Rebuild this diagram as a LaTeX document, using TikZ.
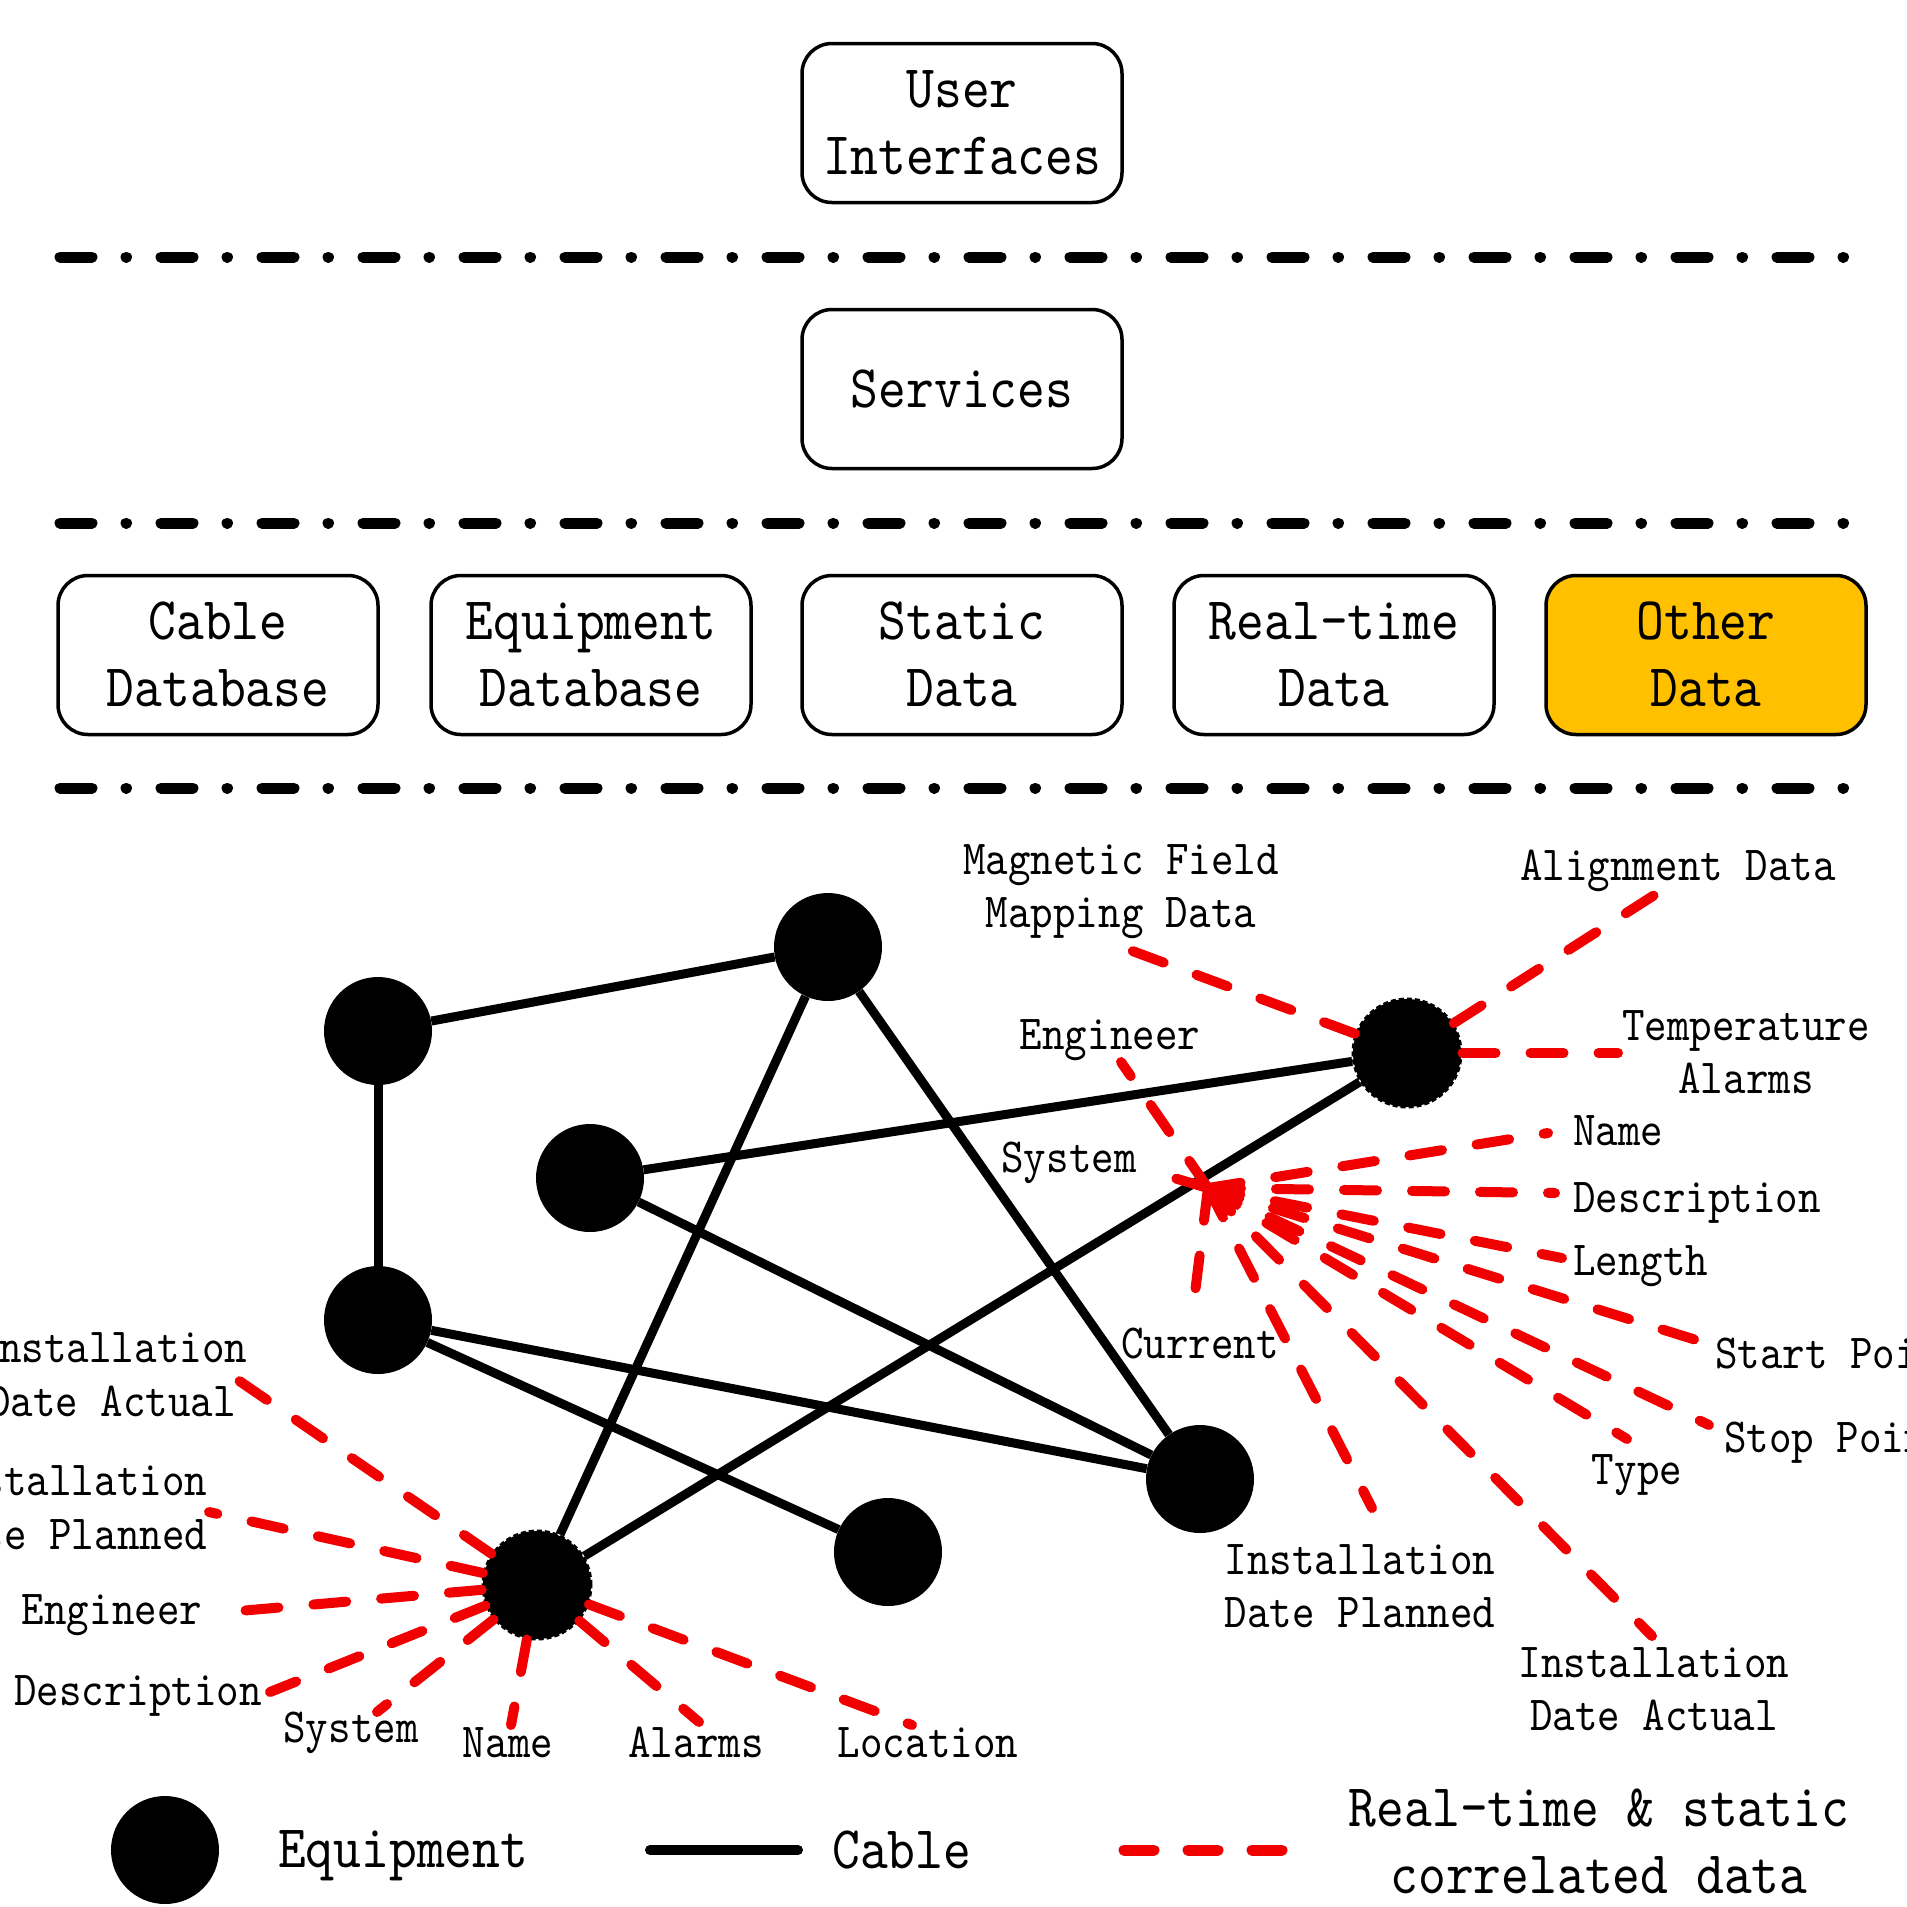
\documentclass[tikz,border=0pt]{standalone}
\usepackage{fontspec}
\newfontfamily\labelfont{lmmono10-regular.otf}[FakeStretch=0.875]
\newcommand\lblsmall{\labelfont\fontsize{49}{53.5}\selectfont}
\newcommand\lblbig{\labelfont\fontsize{60.5}{67}\selectfont}
% strut that centres each line on its capital letters
\newcommand\capstrut{\rule[-0.2em]{0pt}{1.011em}}
\definecolor{otherfill}{RGB}{255,192,0}
\definecolor{datared}{RGB}{240,0,0}

\begin{document}
\begin{tikzpicture}[x=1pt,y=-1pt,
  box/.style={draw, line width=3.5, rounded corners=30, minimum width=320,
    minimum height=159, inner sep=0, align=center, font=\lblbig},
  layersep/.style={line width=11, line cap=round,
    dash pattern=on 32 off 34 on 0.5 off 34.5},
  equip/.style={circle, fill=black, minimum size=108, inner sep=0},
  roughequip/.style={equip, draw=black, line width=3, dash pattern=on 5 off 3},
  cable/.style={line width=9},
  corr/.style={draw=datared, line width=10, line cap=round, dash pattern=on 33 off 35},
  lbl/.style={inner sep=0, align=center, font=\lblsmall},
  biglbl/.style={inner sep=0, align=center, font=\lblbig}]

\useasboundingbox (0,0) rectangle (1907,1907);
\clip (0,0) rectangle (1907,1907);

% ---------- layers ----------
\node[box] (ui) at (962,123) {\capstrut User\\\capstrut Interfaces};
\draw[layersep] (60,257) -- (1850,257);
\node[box] (srv) at (962,389) {\capstrut Services};
\draw[layersep] (60,523) -- (1850,523);
\node[box] (cdb) at (218,655) {\capstrut Cable\\\capstrut Database};
\node[box] (edb) at (591,655) {\capstrut Equipment\\\capstrut Database};
\node[box] (sdb) at (962,655) {\capstrut Static\\\capstrut Data};
\node[box] (rdb) at (1334,655) {\capstrut Real-time\\\capstrut Data};
\node[box, fill=otherfill] (odb) at (1706,655) {\capstrut Other\\\capstrut Data};
\draw[layersep] (60,788) -- (1850,788);

% ---------- equipment ----------
\node[equip] (A) at (378,1031) {};
\node[equip] (B) at (828,947) {};
\node[equip] (C) at (590,1178) {};
\node[equip] (D) at (378,1320) {};
\node[roughequip] (E) at (1407,1053) {};
\node[equip] (F) at (1200,1479) {};
\node[roughequip] (G) at (537,1585) {};
\node[equip] (H) at (888,1552) {};

% ---------- cables ----------
\draw[cable] (A) -- (B);
\draw[cable] (A) -- (D);
\draw[cable] (B) -- (G);
\draw[cable] (B) -- (F);
\draw[cable] (C) -- (E);
\draw[cable] (C) -- (F);
\draw[cable] (D) -- (F);
\draw[cable] (D) -- (H);
\draw[cable] (G) -- (E);

% ---------- data of equipment E ----------
\node[lbl] (eMag) at (1121,886.5) {\capstrut Magnetic Field\\\capstrut Mapping Data};
\node[lbl] (eAli) at (1678,866) {\capstrut Alignment Data};
\node[lbl] (eTmp) at (1746,1052) {\capstrut Temperature\\\capstrut Alarms};
\coordinate (eMagEnd) at (1119,946);
\coordinate (eAliEnd) at (1656,894);
\coordinate (eTmpEnd) at (1618,1053);
\draw[corr] (E) -- (eMagEnd);
\draw[corr] (E) -- (eAliEnd);
\draw[corr] (E) -- (eTmpEnd);

% ---------- data of the cable G--E ----------
\coordinate (hub) at (1208,1188);
\node[lbl] (cEng) at (1110,1035) {\capstrut Engineer};
\node[lbl] (cSys) at (1069,1158) {\capstrut System};
\node[lbl, anchor=west] (cName) at (1573,1131) {\capstrut Name};
\node[lbl, anchor=west] (cDesc) at (1573,1198) {\capstrut Description};
\node[lbl, anchor=west] (cLen) at (1573,1261) {\capstrut Length};
\node[lbl] (cCur) at (1200,1344) {\capstrut Current};
\node[lbl, anchor=west] (cStart) at (1715,1354) {\capstrut Start Point};
\node[lbl, anchor=west] (cStop) at (1724,1438) {\capstrut Stop Point};
\node[lbl] (cType) at (1637,1470) {\capstrut Type};
\node[lbl] (cIdp) at (1360,1586) {\capstrut Installation\\\capstrut Date Planned};
\node[lbl] (cIda) at (1654,1689) {\capstrut Installation\\\capstrut Date Actual};
\coordinate (cEngEnd) at (1121,1062);
\coordinate (cSysEnd) at (1147,1170);
\coordinate (cNameEnd) at (1548,1133);
\coordinate (cDescEnd) at (1555,1193);
\coordinate (cLenEnd) at (1562,1258);
\coordinate (cStartEnd) at (1709,1344);
\coordinate (cStopEnd) at (1709,1425);
\coordinate (cTypeEnd) at (1627,1439);
\coordinate (cIdaEnd) at (1652,1636);
\coordinate (cIdpEnd) at (1372,1508);
\coordinate (cCurEnd) at (1192,1317);
\foreach \e in {cEngEnd,cSysEnd,cNameEnd,cDescEnd,cLenEnd,cStartEnd,cStopEnd,cTypeEnd,cIdaEnd,cIdpEnd,cCurEnd}
  \draw[corr] (hub) -- (\e);

% ---------- data of equipment G ----------
\node[lbl] (gIda) at (112,1374.5) {\capstrut Installation\\\capstrut Date Actual};
\node[lbl] (gIdp) at (72,1507.5) {\capstrut Installation\\\capstrut Date Planned};
\node[lbl] (gEng) at (112,1610) {\capstrut Engineer};
\node[lbl] (gDesc) at (138,1691) {\capstrut Description};
\node[lbl] (gSys) at (351,1728) {\capstrut System};
\node[lbl] (gName) at (508,1743) {\capstrut Name};
\node[lbl] (gAlm) at (696,1743) {\capstrut Alarms};
\node[lbl] (gLoc) at (928,1743) {\capstrut Location};
\coordinate (gIdaEnd) at (235,1378);
\coordinate (gIdpEnd) at (209,1512);
\coordinate (gEngEnd) at (216,1613);
\coordinate (gDescEnd) at (270,1692);
\coordinate (gSysEnd) at (377,1712);
\coordinate (gNameEnd) at (511,1725);
\coordinate (gAlmEnd) at (699,1722);
\coordinate (gLocEnd) at (912,1725);
\foreach \e in {gIdaEnd,gIdpEnd,gEngEnd,gDescEnd,gSysEnd,gNameEnd,gAlmEnd,gLocEnd}
  \draw[corr] (G) -- (\e);

% ---------- legend ----------
\node[equip] (legEquip) at (165,1850) {};
\node[biglbl, anchor=west] (legEquipTxt) at (278,1850) {\capstrut Equipment};
\coordinate (legCab1) at (650,1850);
\coordinate (legCab2) at (798,1850);
\draw[cable, line width=10, line cap=round] (legCab1) -- (legCab2);
\node[biglbl, anchor=west] (legCabTxt) at (832,1850) {\capstrut Cable};
\coordinate (legCor1) at (1124,1850);
\coordinate (legCor2) at (1282,1850);
\draw[corr, line width=11, dash pattern=on 30 off 34] (legCor1) -- (legCor2);
\node[biglbl] (legCorTxt) at (1599,1841.5) {\capstrut Real-time \& static\\\capstrut correlated data};
\end{tikzpicture}
\end{document}
